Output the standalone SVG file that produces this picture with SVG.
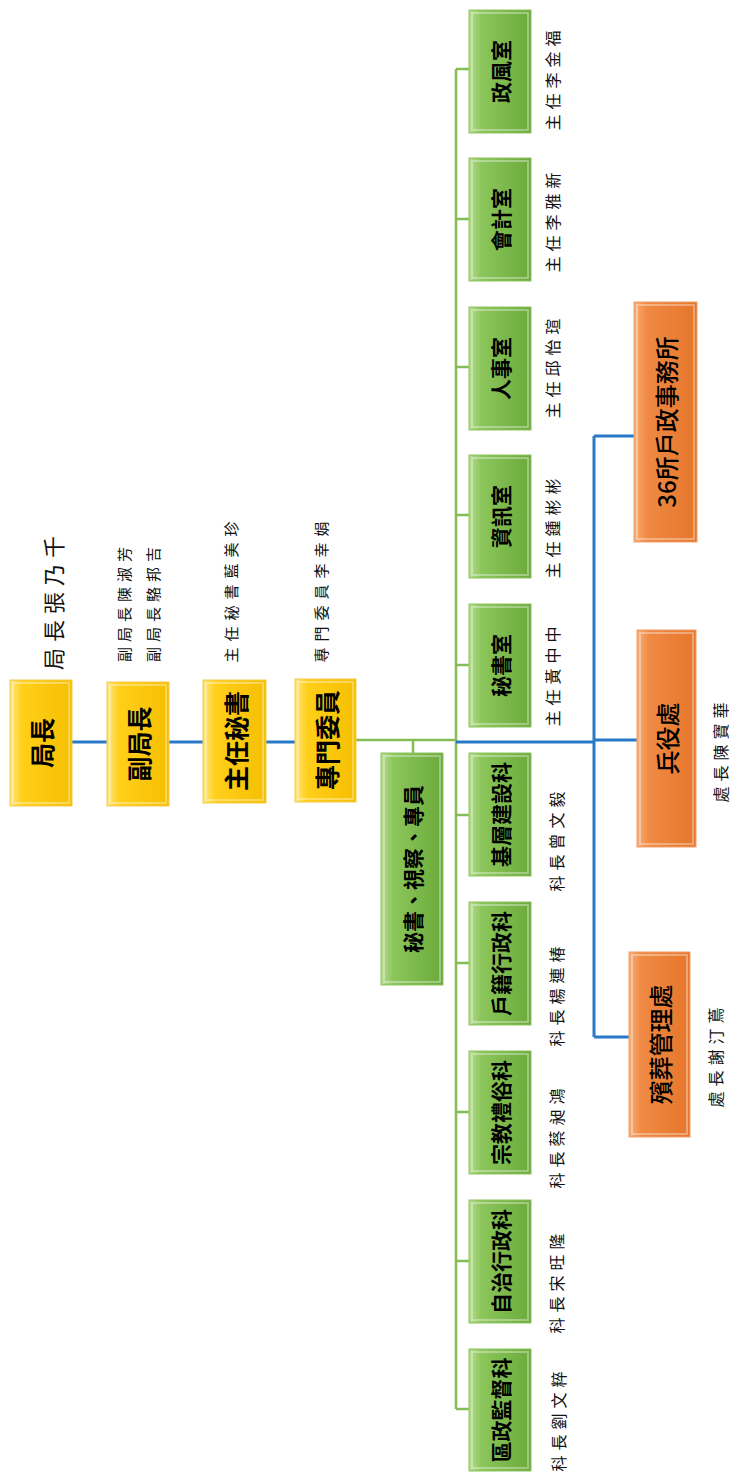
<svg xmlns="http://www.w3.org/2000/svg" width="735" height="1472" viewBox="0 0 735 1472">
<defs>
<linearGradient id="gy" x1="0" y1="0" x2="1" y2="0">
<stop offset="0" stop-color="#FFE680"/><stop offset="0.2" stop-color="#FFCF1A"/><stop offset="1" stop-color="#F6BF00"/>
</linearGradient>
<linearGradient id="gg" x1="0" y1="0" x2="1" y2="0">
<stop offset="0" stop-color="#B5DC8E"/><stop offset="0.2" stop-color="#8CC65C"/><stop offset="1" stop-color="#6AAA3A"/>
</linearGradient>
<linearGradient id="go" x1="0" y1="0" x2="1" y2="0">
<stop offset="0" stop-color="#F6AE78"/><stop offset="0.2" stop-color="#EF8A44"/><stop offset="1" stop-color="#E6762A"/>
</linearGradient>
<style>
.y{fill:url(#gy);stroke:#F2C94C;stroke-width:1}
.g{fill:url(#gg);stroke:#8DC35F;stroke-width:1}
.o{fill:url(#go);stroke:#F0A06A;stroke-width:1}
.bv{fill:none;stroke:#ffffff;stroke-opacity:0.35;stroke-width:2}
.t{font-family:"Noto Sans CJK TC","Noto Sans CJK SC",sans-serif;font-weight:700;fill:#000;text-anchor:middle;dominant-baseline:central}
.ty{font-size:25px}
.tg{font-size:21px}
.to{font-size:24px;font-weight:500}
.l{font-family:"Noto Sans CJK TC","Noto Sans CJK SC",sans-serif;font-weight:400;fill:#111;text-anchor:middle;dominant-baseline:central;font-size:16px;letter-spacing:5px}
.bl{stroke:#2A78C8;stroke-width:3;fill:none}
.gl{stroke:#85BC56;stroke-width:2.5;fill:none}
</style>
</defs>
<rect width="735" height="1472" fill="#ffffff"/>

<g id="connectors">
<path class="bl" d="M72,742H107M169,742H203M266,742H295"/>
<path class="gl" d="M356,740H456M413,740V753"/>
<path class="gl" d="M456,69V1409M456,69H469M456,219H469M456,367H469M456,515H469M456,665H469M456,815H469M456,963H469M456,1112H469M456,1261H469M456,1409H469"/>
<path class="bl" d="M456,742H594M594,740H637M594,436V1037M594,436H634M594,1037H629"/>
</g>

<g id="n-juzhang"><rect class="y" x="10" y="680" width="62" height="126"/><rect class="bv" x="13" y="683" width="56" height="120"/><text class="t ty" transform="translate(41,743) rotate(-90)">局長</text></g>
<g id="n-fujuzhang"><rect class="y" x="107" y="682" width="62" height="124"/><rect class="bv" x="110" y="685" width="56" height="118"/><text class="t ty" transform="translate(138,744) rotate(-90)">副局長</text></g>
<g id="n-zhurenmishu"><rect class="y" x="203" y="680" width="63" height="123"/><rect class="bv" x="206" y="683" width="57" height="117"/><text class="t ty" transform="translate(234.5,741) rotate(-90)">主任秘書</text></g>
<g id="n-zhuanmen"><rect class="y" x="295" y="679" width="61" height="123"/><rect class="bv" x="298" y="682" width="55" height="117"/><text class="t ty" transform="translate(325.5,740) rotate(-90)">專門委員</text></g>

<g id="n-mishu-group"><rect class="g" x="381" y="753" width="62" height="232"/><rect class="bv" x="384" y="756" width="56" height="226"/><text class="t tg" transform="translate(412,869) rotate(-90)">秘書、視察、專員</text></g>

<g id="n-zhengfeng"><rect class="g" x="469" y="10" width="62" height="123"/><rect class="bv" x="472" y="13" width="56" height="117"/><text class="t tg" transform="translate(500,71.5) rotate(-90)">政風室</text></g>
<g id="n-kuaiji"><rect class="g" x="469" y="158" width="62" height="123"/><rect class="bv" x="472" y="161" width="56" height="117"/><text class="t tg" transform="translate(500,219.5) rotate(-90)">會計室</text></g>
<g id="n-renshi"><rect class="g" x="469" y="307" width="62" height="123"/><rect class="bv" x="472" y="310" width="56" height="117"/><text class="t tg" transform="translate(500,368.5) rotate(-90)">人事室</text></g>
<g id="n-zixun"><rect class="g" x="469" y="455" width="62" height="123"/><rect class="bv" x="472" y="458" width="56" height="117"/><text class="t tg" transform="translate(500,516.5) rotate(-90)">資訊室</text></g>
<g id="n-mishushi"><rect class="g" x="469" y="604" width="62" height="123"/><rect class="bv" x="472" y="607" width="56" height="117"/><text class="t tg" transform="translate(500,665.5) rotate(-90)">秘書室</text></g>
<g id="n-jiceng"><rect class="g" x="469" y="753" width="62" height="123"/><rect class="bv" x="472" y="756" width="56" height="117"/><text class="t tg" transform="translate(500,814.5) rotate(-90)">基層建設科</text></g>
<g id="n-huji"><rect class="g" x="469" y="902" width="62" height="123"/><rect class="bv" x="472" y="905" width="56" height="117"/><text class="t tg" transform="translate(500,963.5) rotate(-90)">戶籍行政科</text></g>
<g id="n-zongjiao"><rect class="g" x="469" y="1051" width="62" height="123"/><rect class="bv" x="472" y="1054" width="56" height="117"/><text class="t tg" transform="translate(500,1112.5) rotate(-90)">宗教禮俗科</text></g>
<g id="n-zizhi"><rect class="g" x="469" y="1200" width="62" height="123"/><rect class="bv" x="472" y="1203" width="56" height="117"/><text class="t tg" transform="translate(500,1261.5) rotate(-90)">自治行政科</text></g>
<g id="n-quzheng"><rect class="g" x="469" y="1349" width="62" height="122"/><rect class="bv" x="472" y="1352" width="56" height="116"/><text class="t tg" transform="translate(500,1410) rotate(-90)">區政監督科</text></g>

<g id="n-huzheng36"><rect class="o" x="634" y="302" width="63" height="240"/><rect class="bv" x="637" y="305" width="57" height="234"/><text class="t to" transform="translate(665.5,422) rotate(-90)">36所戶政事務所</text></g>
<g id="n-bingyi"><rect class="o" x="637" y="630" width="59" height="217"/><rect class="bv" x="640" y="633" width="53" height="211"/><text class="t to" transform="translate(666.5,738.5) rotate(-90)">兵役處</text></g>
<g id="n-binzang"><rect class="o" x="629" y="952" width="61" height="185"/><rect class="bv" x="632" y="955" width="55" height="179"/><text class="t to" transform="translate(659.5,1044.5) rotate(-90)">殯葬管理處</text></g>

<g id="labels">
<text class="l" style="font-size:22px;letter-spacing:6px" transform="translate(52,600) rotate(-90)">局長張乃千</text>
<text class="l" style="font-size:15px" transform="translate(123,602) rotate(-90)">副局長陳淑芳</text>
<text class="l" style="font-size:15px" transform="translate(152,602) rotate(-90)">副局長駱邦吉</text>
<text class="l" style="font-size:15px;letter-spacing:6px" transform="translate(230,589) rotate(-90)">主任秘書藍美珍</text>
<text class="l" style="font-size:15px;letter-spacing:6px" transform="translate(320,589) rotate(-90)">專門委員李幸娟</text>
<text class="l" transform="translate(552,78) rotate(-90)">主任李金福</text>
<text class="l" transform="translate(552,220) rotate(-90)">主任李雅新</text>
<text class="l" transform="translate(552,366) rotate(-90)">主任邱怡瑄</text>
<text class="l" transform="translate(552,526) rotate(-90)">主任鍾彬彬</text>
<text class="l" transform="translate(552,674) rotate(-90)">主任黃中中</text>
<text class="l" transform="translate(556,839) rotate(-90)">科長曾文毅</text>
<text class="l" transform="translate(556,994) rotate(-90)">科長楊連椿</text>
<text class="l" transform="translate(556,1136) rotate(-90)">科長蔡昶鴻</text>
<text class="l" transform="translate(556,1281) rotate(-90)">科長宋旺隆</text>
<text class="l" transform="translate(558,1419) rotate(-90)">科長劉文粹</text>
<text class="l" transform="translate(720,750) rotate(-90)">處長陳寶華</text>
<text class="l" transform="translate(715,1055) rotate(-90)">處長謝汀蔦</text>
</g>
</svg>
